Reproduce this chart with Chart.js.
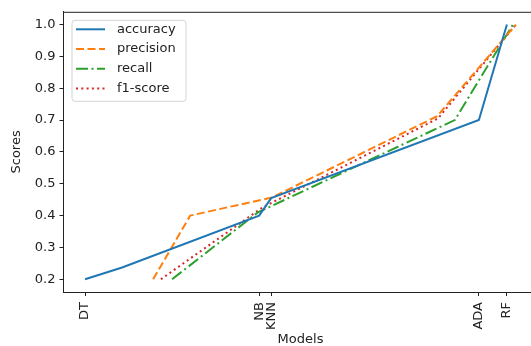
<!DOCTYPE html>
<html>
<head>
<meta charset="utf-8">
<script src="https://cdn.jsdelivr.net/npm/chart.js@4.4.0/dist/chart.umd.min.js"></script>
<style>
  body { margin: 0; overflow: hidden; background: #fff; }
  #wrap { width: 545px; height: 346px; }
</style>
</head>
<body>
<div id="wrap"><canvas id="grafico" width="545" height="346"></canvas></div>
<script>
// models on the x axis and where they sit
var modelNames = ['DT', 'NB', 'KNN', 'ADA', 'RF'];
var modelPos = [0, 40.4, 43.2, 91.4, 97.9];

// series (x position, score)
var accX = [0, 8.6, 40.4, 43.2, 91.4, 97.9];
var accY = [0.2, 0.237, 0.40, 0.455, 0.70, 1.0];
var precX = [15.8, 24.4, 43.4, 81.7, 100];
var precY = [0.2, 0.40, 0.457, 0.712, 1.0];
var recX = [20.2, 40.1, 85.8, 99.3];
var recY = [0.2, 0.41, 0.70, 1.0];
var f1X = [17.6, 41.1, 81.9, 100];
var f1Y = [0.2, 0.425, 0.705, 1.0];

var yTicks = [0.2, 0.3, 0.4, 0.5, 0.6, 0.7, 0.8, 0.9, 1.0];

function puntos(xs, ys) {
    var out = [];
    for (var i = 0; i < xs.length; i++) {
        out.push({ x: xs[i], y: ys[i] });
    }
    return out;
}

var fuente = 'DejaVu Sans';
var tinta = '#222';

// legend box inside the plot, top left, like matplotlib
var leyenda = {
    id: 'leyenda',
    afterDraw: function (chart) {
        var ctx = chart.ctx;
        var area = chart.chartArea;
        var x0 = area.left + 8.5, y0 = area.top + 8.5;
        var w = 114, h = 81;
        ctx.save();
        // top spine
        ctx.strokeStyle = tinta;
        ctx.lineWidth = 1;
        ctx.beginPath();
        ctx.moveTo(area.left, area.top + 0.5);
        ctx.lineTo(area.right, area.top + 0.5);
        ctx.moveTo(area.right - 0.5, area.top);
        ctx.lineTo(area.right - 0.5, area.bottom);
        ctx.stroke();

        ctx.fillStyle = 'rgba(255,255,255,0.8)';
        ctx.strokeStyle = '#d4d4d4';
        ctx.beginPath();
        ctx.roundRect(x0, y0, w, h, 3);
        ctx.fill();
        ctx.stroke();

        ctx.font = '13px ' + fuente;
        ctx.textBaseline = 'middle';
        chart.data.datasets.forEach(function (ds, i) {
            var yy = y0 + 9 + i * 19.7;
            ctx.strokeStyle = ds.borderColor;
            ctx.lineWidth = ds.borderWidth;
            ctx.setLineDash(ds.borderDash || []);
            ctx.beginPath();
            ctx.moveTo(x0 + 4, yy);
            ctx.lineTo(x0 + 33, yy);
            ctx.stroke();
            ctx.setLineDash([]);
            ctx.fillStyle = tinta;
            ctx.fillText(ds.label, x0 + 45, yy);
        });
        ctx.restore();
    }
};

var mostrar = document.getElementById('grafico');
var grafico = new Chart(mostrar, {
    type: 'line',
    data: {
        datasets: [{
            label: 'accuracy',
            data: puntos(accX, accY),
            borderColor: '#1f77b4',
            borderWidth: 2,
            borderDash: []
        }, {
            label: 'precision',
            data: puntos(precX, precY),
            borderColor: '#ff7f0e',
            borderWidth: 2,
            borderDash: [8, 3.5]
        }, {
            label: 'recall',
            data: puntos(recX, recY),
            borderColor: '#2ca02c',
            borderWidth: 2,
            borderDash: [12, 3.5, 2, 3.5]
        }, {
            label: 'f1-score',
            data: puntos(f1X, f1Y),
            borderColor: '#d62728',
            borderWidth: 2,
            borderDash: [2, 3.3]
        }]
    },
    options: {
        responsive: false,
        animation: false,
        layout: {
            padding: { top: 9, right: 7.5, left: 0, bottom: 0 }
        },
        elements: {
            point: { radius: 0 },
            line: { tension: 0, fill: false }
        },
        plugins: {
            legend: { display: false },
            tooltip: { enabled: false }
        },
        scales: {
            x: {
                type: 'linear',
                min: -5,
                max: 105,
                afterFit: function (scale) { scale.height = 54; },
                afterBuildTicks: function (scale) {
                    scale.ticks = modelPos.map(function (v) { return { value: v }; });
                },
                grid: {
                    drawOnChartArea: false,
                    drawTicks: true,
                    tickLength: 4,
                    color: tinta
                },
                border: { display: true, color: tinta, width: 1 },
                ticks: {
                    autoSkip: false,
                    minRotation: 90,
                    maxRotation: 90,
                    padding: 6,
                    color: tinta,
                    font: { family: fuente, size: 13 },
                    callback: function (value) {
                        var i = modelPos.indexOf(value);
                        return i >= 0 ? modelNames[i] : '';
                    }
                },
                title: {
                    display: true,
                    text: 'Models',
                    color: tinta,
                    padding: { top: 0, bottom: 0 },
                    font: { family: fuente, size: 13, lineHeight: 1 }
                }
            },
            y: {
                min: 0.16,
                max: 1.04,
                afterFit: function (scale) { scale.width = 63.5; },
                afterBuildTicks: function (scale) {
                    scale.ticks = yTicks.map(function (v) { return { value: v }; });
                },
                grid: {
                    drawOnChartArea: false,
                    drawTicks: true,
                    tickLength: 4,
                    color: tinta
                },
                border: { display: true, color: tinta, width: 1 },
                ticks: {
                    padding: 4,
                    color: tinta,
                    font: { family: fuente, size: 13 },
                    callback: function (value) { return value.toFixed(1); }
                },
                title: {
                    display: true,
                    text: 'Scores',
                    color: tinta,
                    padding: { top: 10, bottom: 0 },
                    font: { family: fuente, size: 13, lineHeight: 1 }
                }
            }
        }
    },
    plugins: [leyenda]
});
</script>
</body>
</html>
